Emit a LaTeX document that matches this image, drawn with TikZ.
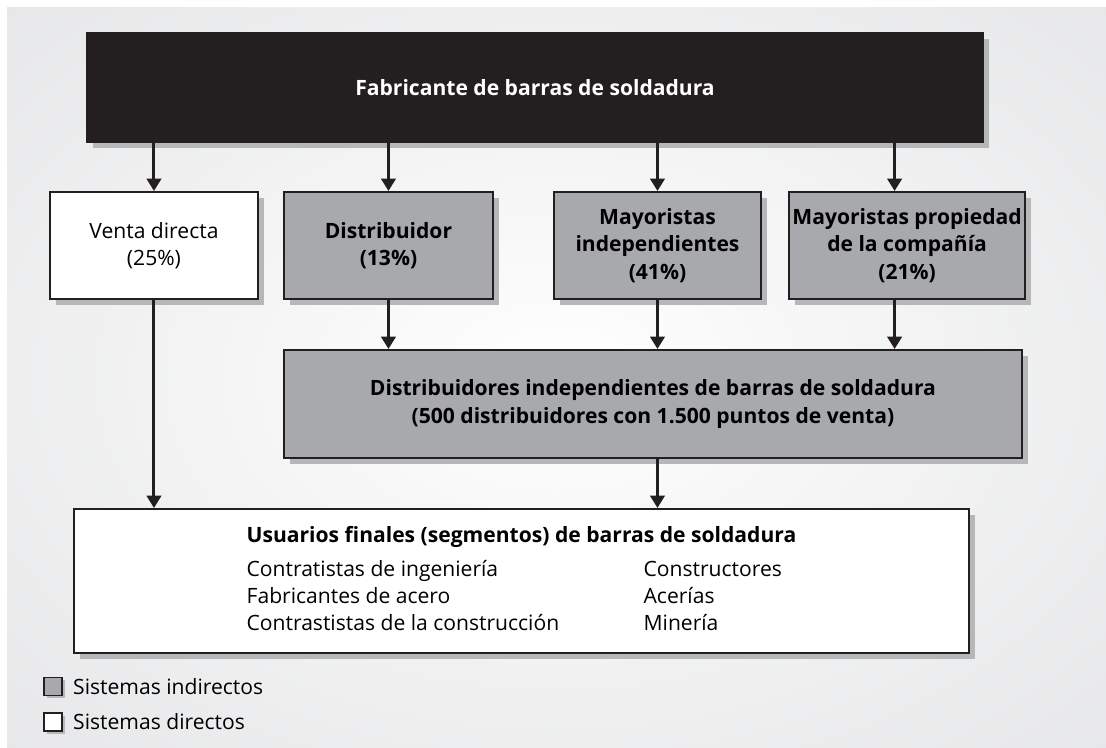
\documentclass[tikz,border=0pt]{standalone}
\usepackage{fontspec}
\setmainfont{Open Sans}
\usetikzlibrary{arrows.meta,positioning,shadows}
\usepackage{xcolor}
\definecolor{cink}{HTML}{231F20}
\definecolor{cbox}{HTML}{A7A9AC}
\definecolor{cshadow}{HTML}{B6B7B9}
\definecolor{cback}{HTML}{DCDDDF}
\pgfdeclareradialshading{backshade}{\pgfpoint{0bp}{0bp}}{color(0bp)=(white); color(22bp)=(white!55!cback); color(52bp)=(cback); color(72bp)=(cback)}

\begin{document}
\begin{tikzpicture}[
    txt/.style={font=\fontsize{12}{15.5}\selectfont},
    box/.style={draw=cink, line width=1.1pt, fill=cbox, align=center,
      anchor=north west, inner sep=2pt, font=\fontsize{12}{15.5}\selectfont\bfseries,
      drop shadow={fill=cshadow, opacity=1, shadow xshift=0.12cm, shadow yshift=-0.12cm}},
    plainbox/.style={box, fill=white, txt},
    legsq/.style={draw=cink, line width=1pt, minimum size=0.36cm, inner sep=0pt,
      drop shadow={fill=cshadow, opacity=1, shadow xshift=0.05cm, shadow yshift=-0.05cm}},
    arr/.style={-{Triangle[width=0.29cm,length=0.25cm]}, line width=1.7pt, draw=cink}]
    \useasboundingbox (0,0) rectangle (22.12,-14.94);
    \shade[shading=backshade] (0.14,-0.14) rectangle (22.12,-14.94);

    \node[box, fill=cink, text=white, minimum width=17.92cm, minimum height=2.18cm] (fab) at (1.72,-0.64) {Fabricante de barras de soldadura};

    \node[plainbox, minimum width=4.16cm, minimum height=2.14cm] (venta) at (0.98,-3.82) {Venta directa\\(25\%)};
    \node[box, minimum width=4.18cm, minimum height=2.14cm] (dist) at (5.66,-3.82) {Distribuidor\\(13\%)};
    \node[box, minimum width=4.14cm, minimum height=2.14cm] (mayind) at (11.06,-3.82) {Mayoristas\\independientes\\(41\%)};
    \node[box, minimum width=4.66cm, minimum height=2.14cm] (maypro) at (15.76,-3.82) {Mayoristas propiedad\\de la compañía\\(21\%)};

    \node[box, minimum width=14.76cm, minimum height=2.16cm] (distind) at (5.66,-6.98) {Distribuidores independientes de barras de soldadura\\(500 distribuidores con 1.500 puntos de venta)};

    \node[plainbox, minimum width=17.9cm, minimum height=2.88cm] (usu) at (1.46,-10.16) {%
      \begin{tabular}{@{}p{7.94cm}@{}l@{}}
        \multicolumn{2}{@{}l@{}}{\bfseries Usuarios finales (segmentos) de barras de soldadura}\\[4pt]
        Contratistas de ingeniería & Constructores\\
        Fabricantes de acero & Acerías\\
        Contrastistas de la construcción & Minería
      \end{tabular}};

    % flechas
    \coordinate (mp) at ([xshift=-0.25cm]maypro.north);
    \coordinate (mps) at ([xshift=-0.25cm]maypro.south);
    \draw[arr] (fab.south -| venta.north) -- (venta.north);
    \draw[arr] (fab.south -| dist.north) -- (dist.north);
    \draw[arr] (fab.south -| mayind.north) -- (mayind.north);
    \draw[arr] (fab.south -| mp) -- (mp);
    \draw[arr] (dist.south) -- (dist.south |- distind.north);
    \draw[arr] (mayind.south) -- (mayind.south |- distind.north);
    \draw[arr] (mps) -- (mps |- distind.north);
    \draw[arr] (venta.south) -- (venta.south |- usu.north);
    \draw[arr] (distind.south -| mayind.south) -- (mayind.south |- usu.north);

    % leyenda
    \node[legsq, fill=cbox] (ind) at (1.06,-13.73) {};
    \node[txt, right=0.2cm of ind, inner sep=0pt] (indtxt) {Sistemas indirectos};
    \node[legsq, fill=white] (dir) at (1.06,-14.44) {};
    \node[txt, right=0.2cm of dir, inner sep=0pt] (dirtxt) {Sistemas directos};
\end{tikzpicture}
\end{document}
